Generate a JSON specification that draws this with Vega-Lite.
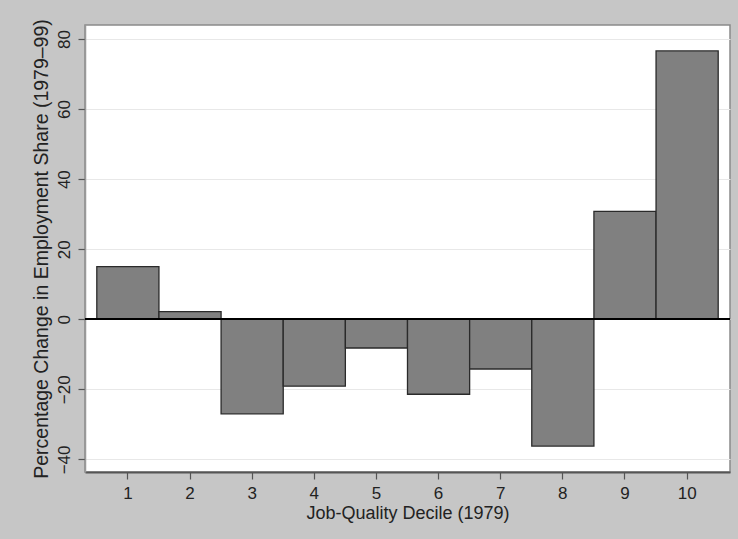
{
  "$schema": "https://vega.github.io/schema/vega-lite/v6.json",
  "width": 645,
  "height": 447,
  "autosize": {"type": "none"},
  "padding": {"left": 85, "top": 25, "right": 8, "bottom": 67},
  "background": "#c6c6c6",
  "config": {
    "font": "Liberation Sans",
    "view": {"fill": "white", "stroke": "#8a8a8a", "strokeWidth": 1.5},
    "axis": {
      "labelFont": "Liberation Sans",
      "titleFont": "Liberation Sans",
      "labelColor": "#222",
      "titleColor": "#222",
      "titleFontWeight": "normal",
      "tickColor": "#555",
      "tickWidth": 1.2
    }
  },
  "data": {
    "values": [
      {"decile": 1, "change": 15.0},
      {"decile": 2, "change": 2.2},
      {"decile": 3, "change": -27.0},
      {"decile": 4, "change": -19.1},
      {"decile": 5, "change": -8.2},
      {"decile": 6, "change": -21.4},
      {"decile": 7, "change": -14.2},
      {"decile": 8, "change": -36.2},
      {"decile": 9, "change": 30.8},
      {"decile": 10, "change": 76.6}
    ]
  },
  "layer": [
    {
      "mark": {"type": "bar", "fill": "#808080", "stroke": "#2a2a2a", "strokeWidth": 1.3},
      "encoding": {
        "x": {
          "field": "decile",
          "type": "ordinal",
          "scale": {"paddingInner": 0, "paddingOuter": 0.19},
          "axis": {
            "title": "Job-Quality Decile (1979)",
            "labelAngle": 0,
            "labelFontSize": 17,
            "titleFontSize": 18,
            "tickSize": 7,
            "labelPadding": 6,
            "titlePadding": 3,
            "domainColor": "#555",
            "domainWidth": 2
          }
        },
        "y": {
          "field": "change",
          "type": "quantitative",
          "scale": {"domain": [-43.6, 84], "nice": false, "zero": false},
          "axis": {
            "title": "Percentage Change in Employment Share (1979–99)",
            "values": [-40, -20, 0, 20, 40, 60, 80],
            "labelAngle": -90,
            "labelAlign": "center",
            "labelBaseline": "bottom",
            "labelFontSize": 17,
            "titleFontSize": 19.5,
            "tickSize": 7,
            "labelPadding": 5,
            "titlePadding": 4,
            "grid": true,
            "gridColor": "#e8e8e8",
            "gridWidth": 1.2,
            "domainColor": "#999",
            "domainWidth": 1.5
          }
        }
      }
    },
    {
      "mark": {"type": "rule", "color": "black", "strokeWidth": 1.5},
      "encoding": {"y": {"datum": 0}}
    }
  ]
}
